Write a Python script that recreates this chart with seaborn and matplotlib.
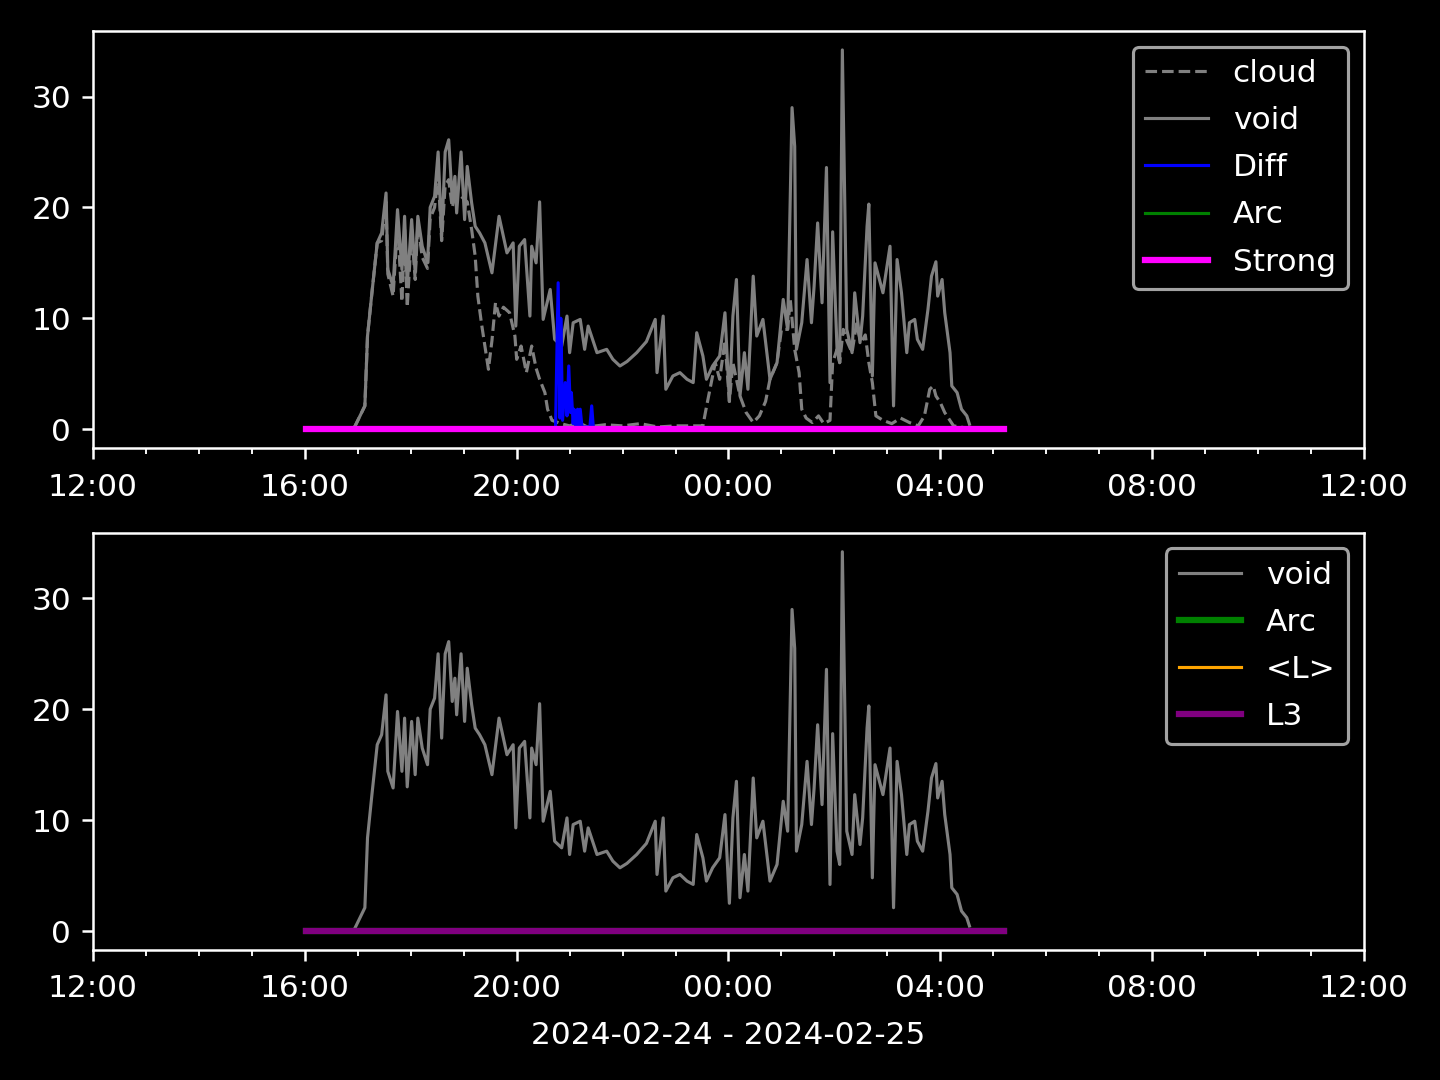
import pandas as pd
import matplotlib.pyplot as plt
import matplotlib.dates as mdates
import seaborn as sns

# --- data (clock times, night of 2024-02-24/25) ---
void_time = ["16:00", "16:55", "16:57", "17:08", "17:11", "17:16", "17:22", "17:27", "17:32", "17:34",
             "17:40", "17:45", "17:50", "17:53", "17:56", "18:01", "18:05", "18:08", "18:13", "18:19",
             "18:22", "18:27", "18:31", "18:35", "18:39", "18:43", "18:47", "18:50", "18:52", "18:57",
             "19:01", "19:04", "19:09", "19:13", "19:18", "19:24", "19:32", "19:40", "19:49", "19:56",
             "19:59", "20:03", "20:09", "20:15", "20:17", "20:22", "20:26", "20:30", "20:38", "20:43",
             "20:51", "20:57", "21:00", "21:04", "21:12", "21:17", "21:21", "21:31", "21:42", "21:49",
             "21:57", "22:05", "22:16", "22:27", "22:37", "22:39", "22:46", "22:49", "22:57", "23:05",
             "23:13", "23:20", "23:24", "23:31", "23:35", "23:42", "23:50", "23:56", "00:01", "00:05",
             "00:09", "00:13", "00:18", "00:22", "00:28", "00:32", "00:39", "00:47", "00:55", "01:02",
             "01:07", "01:12", "01:15", "01:17", "01:23", "01:29", "01:34", "01:37", "01:41", "01:46",
             "01:51", "01:55", "01:58", "02:03", "02:06", "02:09", "02:14", "02:20", "02:23", "02:29",
             "02:32", "02:37", "02:39", "02:43", "02:46", "02:51", "02:55", "03:03", "03:07", "03:11",
             "03:16", "03:22", "03:25", "03:31", "03:34", "03:40", "03:46", "03:50", "03:55", "03:57",
             "04:02", "04:05", "04:11", "04:13", "04:19", "04:24", "04:30", "04:33"]
void_vals = [0.0, 0.0, 0.3, 2.1, 8.4, 12.3, 16.8, 17.7, 21.3, 14.4,
             12.9, 19.8, 14.4, 19.2, 13.0, 18.9, 14.1, 19.2, 16.5, 15.0,
             20.0, 21.0, 25.0, 17.4, 25.0, 26.1, 20.7, 22.8, 19.5, 25.0,
             18.9, 23.7, 20.4, 18.3, 17.7, 16.8, 14.1, 19.2, 15.9, 16.8,
             9.3, 16.5, 17.1, 10.2, 16.5, 15.0, 20.5, 9.9, 12.6, 8.1,
             7.5, 10.2, 6.9, 9.6, 9.9, 7.2, 9.3, 6.9, 7.2, 6.3,
             5.7, 6.1, 6.9, 7.9, 9.9, 5.1, 10.2, 3.6, 4.8, 5.1,
             4.5, 4.2, 8.7, 6.6, 4.5, 5.7, 6.6, 10.5, 2.5, 10.2,
             13.5, 3.0, 6.9, 3.6, 13.8, 8.4, 9.9, 4.5, 6.0, 11.7,
             9.0, 29.0, 25.5, 7.2, 9.6, 15.3, 9.6, 12.9, 18.6, 11.4,
             23.6, 4.2, 17.8, 7.2, 6.0, 34.2, 9.0, 6.9, 12.3, 7.8,
             10.2, 18.3, 20.3, 4.8, 15.0, 13.5, 12.3, 16.5, 2.1, 15.3,
             12.3, 6.9, 9.6, 9.9, 8.1, 7.2, 10.8, 13.8, 15.1, 12.0,
             13.5, 10.5, 6.9, 3.9, 3.3, 1.8, 1.2, 0.45]

cloud_time = ["16:00", "16:55", "16:57", "17:08", "17:11", "17:16", "17:22", "17:27", "17:32", "17:34",
              "17:40", "17:45", "17:50", "17:53", "17:56", "18:01", "18:05", "18:08", "18:13", "18:19",
              "18:22", "18:27", "18:31", "18:35", "18:39", "18:43", "18:47", "18:50", "18:57", "19:04",
              "19:09", "19:13", "19:16", "19:20", "19:24", "19:28", "19:32", "19:36", "19:40", "19:45",
              "19:52", "19:58", "20:00", "20:05", "20:11", "20:17", "20:22", "20:26", "20:32", "20:35",
              "20:40", "20:50", "21:00", "21:10", "21:20", "21:40", "22:00", "22:20", "22:40", "23:00",
              "23:20", "23:31", "23:35", "23:39", "23:45", "23:50", "23:56", "00:01", "00:05", "00:13",
              "00:20", "00:28", "00:35", "00:42", "00:47", "00:55", "01:00", "01:07", "01:10", "01:15",
              "01:20", "01:23", "01:28", "01:35", "01:42", "01:48", "01:55", "01:58", "02:03", "02:06",
              "02:10", "02:14", "02:20", "02:25", "02:30", "02:35", "02:39", "02:43", "02:47", "02:55",
              "03:05", "03:15", "03:25", "03:35", "03:42", "03:48", "03:52", "03:55", "04:00", "04:05",
              "04:10", "04:15", "04:30"]
cloud_vals = [0.0, 0.0, 0.3, 2.1, 8.4, 12.3, 16.8, 17.0, 20.5, 14.0,
              12.0, 18.5, 11.5, 18.0, 11.0, 18.0, 13.5, 18.5, 15.5, 14.5,
              19.0, 20.0, 23.0, 17.0, 22.0, 22.5, 20.0, 21.0, 21.0, 20.5,
              18.0, 15.6, 12.0, 9.6, 7.5, 5.4, 8.0, 11.4, 10.2, 11.0,
              10.5, 8.4, 6.3, 7.5, 5.1, 7.5, 5.5, 4.5, 3.3, 1.8,
              0.8, 0.5, 0.3, 0.6, 0.2, 0.4, 0.3, 0.5, 0.2, 0.3,
              0.3, 0.3, 2.0, 3.6, 6.0, 4.5, 8.0, 2.5, 6.0, 3.0,
              1.5, 0.6, 1.2, 2.5, 4.5, 6.0, 9.0, 9.0, 11.7, 7.2,
              5.1, 1.8, 1.0, 0.6, 1.2, 0.5, 0.8, 6.0, 7.2, 6.0,
              9.0, 8.0, 6.9, 9.5, 7.8, 8.5, 6.0, 4.2, 1.2, 0.8,
              0.5, 1.0, 0.6, 0.3, 1.2, 3.6, 3.9, 3.0, 2.4, 1.5,
              0.9, 0.3, 0.1]

diff_time = ["16:00", "20:44", "20:47", "20:49", "20:50", "20:52", "20:55", "20:57", "20:59", "21:01",
             "21:02", "21:04", "21:05", "21:07", "21:09", "21:10", "21:12", "21:14", "21:23", "21:25",
             "21:27", "05:12"]
diff_vals = [0.0, 0.0, 13.2, 1.0, 10.0, 0.8, 4.2, 1.2, 5.7, 1.5,
             3.3, 0.5, 1.8, 0.3, 1.8, 0.3, 1.8, 0.2, 0.2, 2.1,
             0.0, 0.0]

# flat series (Arc, Strong, <L>, L3) covering the whole run
flat_time = ["16:01", "05:12"]
flat_vals = [0.0, 0.0]

date_label = "2024-02-24 - 2024-02-25"
x_start, x_end = "2024-02-24 12:00", "2024-02-25 12:00"


def to_dt(times):
    out = []
    for t in times:
        day = "2024-02-24" if int(t[:2]) >= 12 else "2024-02-25"
        out.append(pd.Timestamp(f"{day} {t}"))
    return out


void = pd.DataFrame({"t": to_dt(void_time), "v": void_vals})
cloud = pd.DataFrame({"t": to_dt(cloud_time), "v": cloud_vals})
diff = pd.DataFrame({"t": to_dt(diff_time), "v": diff_vals})
flat = pd.DataFrame({"t": to_dt(flat_time), "v": flat_vals})

plt.style.use("dark_background")
fig, (ax1, ax2) = plt.subplots(2, 1, figsize=(6.4, 4.8), dpi=225)

# --- top panel ---
sns.lineplot(data=cloud, x="t", y="v", ax=ax1, color="gray", lw=1, linestyle="--", label="cloud")
sns.lineplot(data=void, x="t", y="v", ax=ax1, color="gray", lw=1, label="void")
sns.lineplot(data=diff, x="t", y="v", ax=ax1, color="blue", lw=1, label="Diff")
sns.lineplot(data=flat, x="t", y="v", ax=ax1, color="green", lw=1, label="Arc")
sns.lineplot(data=flat, x="t", y="v", ax=ax1, color="magenta", lw=2, label="Strong")

# --- bottom panel ---
sns.lineplot(data=void, x="t", y="v", ax=ax2, color="gray", lw=1, label="void")
sns.lineplot(data=flat, x="t", y="v", ax=ax2, color="green", lw=2, label="Arc")
sns.lineplot(data=flat, x="t", y="v", ax=ax2, color="orange", lw=1, label="<L>")
sns.lineplot(data=flat, x="t", y="v", ax=ax2, color="purple", lw=2, label="L3")

for ax in (ax1, ax2):
    ax.set_xlim(pd.Timestamp(x_start), pd.Timestamp(x_end))
    ax.xaxis.set_major_locator(mdates.HourLocator(byhour=range(0, 24, 4)))
    ax.xaxis.set_minor_locator(mdates.HourLocator())
    ax.xaxis.set_major_formatter(mdates.DateFormatter("%H:%M"))
    ax.tick_params(axis="x", which="major", pad=4.3)
    ax.set_ylabel("")
    ax.set_xlabel("")
    ax.legend(loc="upper right", labelspacing=0.58)

ax2.set_xlabel(date_label, labelpad=5.5)

# match the reference margins
fig.subplots_adjust(left=0.0646, right=0.9472, top=0.9713, bottom=0.1204, hspace=0.203)
fig.savefig("out.png")
